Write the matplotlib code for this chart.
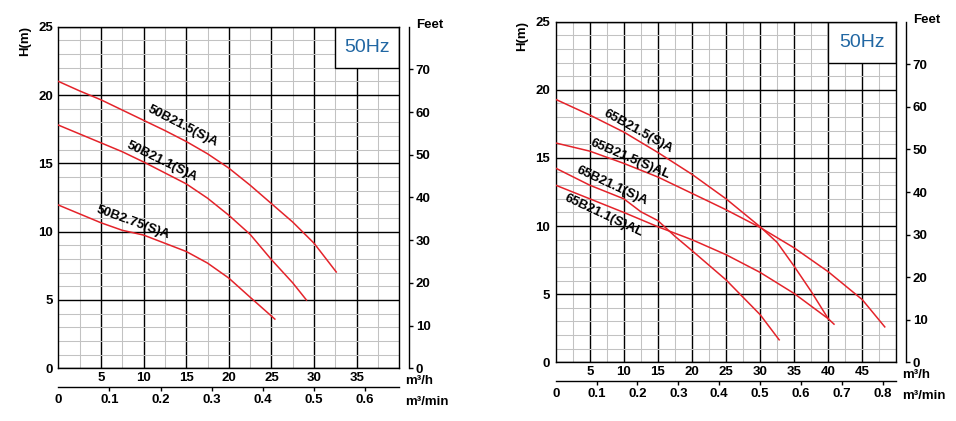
import matplotlib
matplotlib.use('Agg')
import matplotlib.pyplot as plt
from matplotlib.patches import Rectangle
from matplotlib.ticker import MultipleLocator

plt.rcParams['font.family'] = ['Liberation Sans', 'DejaVu Sans']
plt.rcParams['font.weight'] = 'bold'

# ---- left chart: 50B pumps (Q in m3/h, H in m)
left_names = ['50B21.5(S)A', '50B21.1(S)A', '50B2.75(S)A']
left_q = [
    [0, 2.5, 5, 7.5, 10, 12.5, 15, 17.5, 20, 22.5, 25, 27.5, 30, 32.6],
    [0, 2.5, 5, 7.5, 10, 12.5, 15, 17.5, 20, 22.5, 25, 27.5, 29.1],
    [0, 2.5, 5, 7.5, 10, 12.5, 15, 17.5, 20, 22.5, 25.4],
]
left_h = [
    [21.0, 20.3, 19.65, 18.9, 18.15, 17.4, 16.6, 15.7, 14.65, 13.4, 12.05, 10.7, 9.15, 7.05],
    [17.8, 17.15, 16.5, 15.85, 15.1, 14.3, 13.5, 12.45, 11.2, 9.8, 7.95, 6.25, 5.0],
    [11.95, 11.3, 10.65, 10.1, 9.75, 9.15, 8.55, 7.7, 6.6, 5.2, 3.6],
]
left_label_xy = [(14.6, 17.75), (12.1, 15.1), (8.7, 10.65)]
left_label_rot = [-27, -26, -20]
left_qticks = [5, 10, 15, 20, 25, 30, 35]
left_mticks = [0, 0.1, 0.2, 0.3, 0.4, 0.5, 0.6]

# ---- right chart: 65B pumps
right_names = ['65B21.5(S)A', '65B21.5(S)AL', '65B21.1(S)A', '65B21.1(S)AL']
right_q = [
    [0, 5, 10, 15, 20, 25, 30, 32.5, 35, 37.5, 40],
    [0, 5, 10, 15, 20, 25, 30, 35, 40, 45, 48.3],
    [0, 5, 10, 12.5, 15, 17.5, 20, 25, 30, 32.8],
    [0, 5, 10, 15, 20, 25, 30, 35, 40, 40.85],
]
right_h = [
    [19.3, 18.15, 16.9, 15.4, 13.8, 12.0, 9.95, 8.8, 7.05, 5.2, 3.2],
    [16.1, 15.5, 14.6, 13.6, 12.4, 11.2, 9.9, 8.4, 6.65, 4.6, 2.6],
    [14.25, 13.0, 12.0, 11.05, 10.4, 9.25, 8.2, 6.05, 3.5, 1.65],
    [13.0, 12.0, 11.0, 9.95, 9.0, 7.9, 6.6, 5.05, 3.2, 2.8],
]
right_label_xy = [(12.1, 16.95), (10.95, 14.9), (8.2, 12.95), (7.1, 10.75)]
right_label_rot = [-29, -23, -25, -25]
right_qticks = [5, 10, 15, 20, 25, 30, 35, 40, 45]
right_mticks = [0, 0.1, 0.2, 0.3, 0.4, 0.5, 0.6, 0.7, 0.8]

FT_PER_M = 3.2
feet_ticks = [0, 10, 20, 30, 40, 50, 60, 70]

FS = 9.5


def draw_panel(ax, names, qs, hs, label_xy, label_rot, qmax, qticks, mticks, box_x0):
    ax.set_xlim(0, qmax)
    ax.set_ylim(0, 25)
    ax.set_xticks(qticks)
    ax.set_yticks([0, 5, 10, 15, 20, 25])
    ax.xaxis.set_minor_locator(MultipleLocator(2.5))
    ax.yaxis.set_minor_locator(MultipleLocator(1))
    ax.set_axisbelow(True)
    ax.grid(which='minor', color='#c2c2c2', lw=0.75)
    ax.grid(which='major', color='black', lw=1.0)
    ax.tick_params(which='both', length=0, labelsize=FS)
    ax.tick_params(axis='x', pad=2.5)
    ax.tick_params(axis='y', pad=4)
    for s in ax.spines.values():
        s.set_linewidth(1.0)

    # 50Hz box in the upper right corner
    ax.add_patch(Rectangle((box_x0, 22), qmax - box_x0, 3, fc='white',
                           ec='black', lw=1.0, zorder=2))
    ax.text((box_x0 + qmax) / 2, 23.5, '50Hz', color='#2167a3', fontsize=14,
            fontweight='normal', ha='center', va='center', zorder=4)

    for name, q, h, (tx, ty), rot in zip(names, qs, hs, label_xy, label_rot):
        ax.plot(q, h, color='#e4232a', lw=1.1, zorder=3)
        ax.text(tx, ty, name, rotation=rot, fontsize=9.5,
                ha='center', va='center', rotation_mode='anchor', zorder=4)

    ax.text(-0.098, 0.958, 'H(m)', transform=ax.transAxes, rotation=90,
            fontsize=FS, ha='center', va='center')
    ax.text(1.05, 1.005, 'Feet', transform=ax.transAxes, fontsize=FS,
            ha='left', va='center')
    ax.text(1.016, -0.036, 'm³/h', transform=ax.transAxes, fontsize=FS,
            ha='left', va='center')
    ax.text(1.016, -0.098, 'm³/min', transform=ax.transAxes, fontsize=FS,
            ha='left', va='center')

    # feet scale on the right
    axf = ax.twinx()
    axf.set_ylim(0, 25 * FT_PER_M)
    axf.spines['right'].set_position(('outward', 7.3))
    for s in ['top', 'left', 'bottom']:
        axf.spines[s].set_visible(False)
    axf.spines['right'].set_linewidth(1.0)
    axf.set_yticks(feet_ticks)
    axf.tick_params(axis='y', direction='out', length=3, width=1, pad=1.5, labelsize=FS)

    # m3/min scale below
    sec = ax.secondary_xaxis(-0.056, functions=(lambda x: x / 60, lambda x: x * 60))
    sec.set_xticks(mticks)
    sec.set_xticklabels([f'{m:g}' for m in mticks])
    sec.set_xticks([0], minor=True)
    sec.tick_params(which='major', direction='out', length=3, width=1, pad=2, labelsize=FS)
    sec.tick_params(which='minor', direction='in', length=4, width=1)
    sec.spines['bottom'].set_linewidth(1.0)
    sec.xaxis.get_major_ticks()[0].tick1line.set_visible(False)


fig = plt.figure(figsize=(9.56, 4.21), dpi=100)
ax1 = fig.add_axes([0.061, 0.1252, 0.3567, 0.8114])
ax2 = fig.add_axes([0.5813, 0.1394, 0.3563, 0.809])

draw_panel(ax1, left_names, left_q, left_h, left_label_xy, left_label_rot,
           40, left_qticks, left_mticks, 32.5)
draw_panel(ax2, right_names, right_q, right_h, right_label_xy, right_label_rot,
           50, right_qticks, right_mticks, 40)

fig.savefig('out.png', dpi=100)
